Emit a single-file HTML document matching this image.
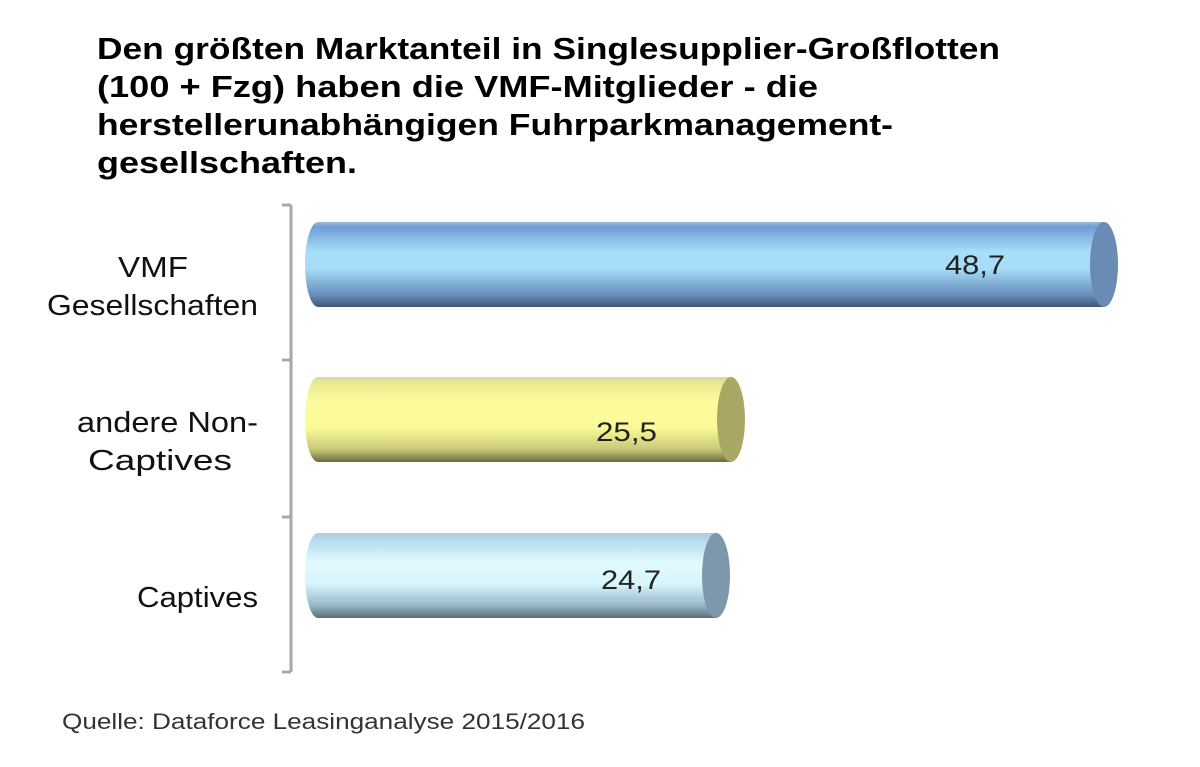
<!DOCTYPE html>
<html><head><meta charset="utf-8"><style>
html,body{margin:0;padding:0;background:#fff;width:1200px;height:767px;overflow:hidden}
</style></head><body>
<svg width="1200" height="767" xmlns="http://www.w3.org/2000/svg" font-family="Liberation Sans, sans-serif">
<defs>
<linearGradient id="g1" x1="0" y1="0" x2="0" y2="1">
<stop offset="0" stop-color="#9fb8d0"/><stop offset="0.06" stop-color="#6f9ed6"/><stop offset="0.35" stop-color="#a8defa"/><stop offset="0.55" stop-color="#a6dcf8"/><stop offset="0.85" stop-color="#6890bc"/><stop offset="1" stop-color="#3e5878"/></linearGradient>
<linearGradient id="g2" x1="0" y1="0" x2="0" y2="1">
<stop offset="0" stop-color="#d8d8a8"/><stop offset="0.06" stop-color="#e8e890"/><stop offset="0.3" stop-color="#fdfc9e"/><stop offset="0.6" stop-color="#fbfa98"/><stop offset="0.85" stop-color="#c8c878"/><stop offset="1" stop-color="#6a6a40"/></linearGradient>
<linearGradient id="g3" x1="0" y1="0" x2="0" y2="1">
<stop offset="0" stop-color="#b8c8d4"/><stop offset="0.06" stop-color="#b0d8ec"/><stop offset="0.35" stop-color="#e2faff"/><stop offset="0.6" stop-color="#d8f4fc"/><stop offset="0.85" stop-color="#98b8c8"/><stop offset="1" stop-color="#5a6e7a"/></linearGradient>
</defs>
<g font-weight="bold" font-size="31" fill="#000">
<text x="97" y="59" textLength="903" lengthAdjust="spacingAndGlyphs">Den größten Marktanteil in Singlesupplier-Großflotten</text>
<text x="97" y="97" textLength="721" lengthAdjust="spacingAndGlyphs">(100 + Fzg) haben die VMF-Mitglieder - die</text>
<text x="97" y="135" textLength="796" lengthAdjust="spacingAndGlyphs">herstellerunabhängigen  Fuhrparkmanagement-</text>
<text x="97" y="173" textLength="260" lengthAdjust="spacingAndGlyphs">gesellschaften.</text>
</g>
<g stroke="#a8a8a8" stroke-width="3" fill="none">
<line x1="291" y1="205" x2="291" y2="672"/>
<line x1="282" y1="205" x2="291" y2="205"/>
<line x1="282" y1="360" x2="291" y2="360"/>
<line x1="282" y1="517" x2="291" y2="517"/>
<line x1="282" y1="672" x2="291" y2="672"/>
</g>
<path d="M318 222 H1104 V307 H318 A13 42.5 0 0 1 318 222 Z" fill="url(#g1)"/>
<ellipse cx="1104" cy="264.5" rx="14" ry="42.5" fill="#6a8cb4"/>
<path d="M318 377 H731 V462 H318 A13 42.5 0 0 1 318 377 Z" fill="url(#g2)"/>
<ellipse cx="731" cy="419.5" rx="14" ry="42.5" fill="#a8a864"/>
<path d="M318 533 H716 V618 H318 A13 42.5 0 0 1 318 533 Z" fill="url(#g3)"/>
<ellipse cx="716" cy="575.5" rx="14" ry="42.5" fill="#7c98aa"/>
<g font-size="27" fill="#222">
<text x="945" y="274" textLength="60" lengthAdjust="spacingAndGlyphs">48,7</text>
<text x="596" y="441" textLength="61" lengthAdjust="spacingAndGlyphs">25,5</text>
<text x="601" y="589" textLength="60" lengthAdjust="spacingAndGlyphs">24,7</text>
</g>
<g font-size="29" fill="#111">
<text x="118" y="277" textLength="70" lengthAdjust="spacingAndGlyphs">VMF</text>
<text x="47" y="315" textLength="211" lengthAdjust="spacingAndGlyphs">Gesellschaften</text>
<text x="77" y="432" textLength="181" lengthAdjust="spacingAndGlyphs">andere Non-</text>
<text x="88" y="470" textLength="144" lengthAdjust="spacingAndGlyphs">Captives</text>
<text x="137" y="607" textLength="121" lengthAdjust="spacingAndGlyphs">Captives</text>
</g>
<text x="62" y="729" font-size="22" fill="#333" textLength="523" lengthAdjust="spacingAndGlyphs">Quelle: Dataforce Leasinganalyse 2015/2016</text>
</svg>
</body></html>
